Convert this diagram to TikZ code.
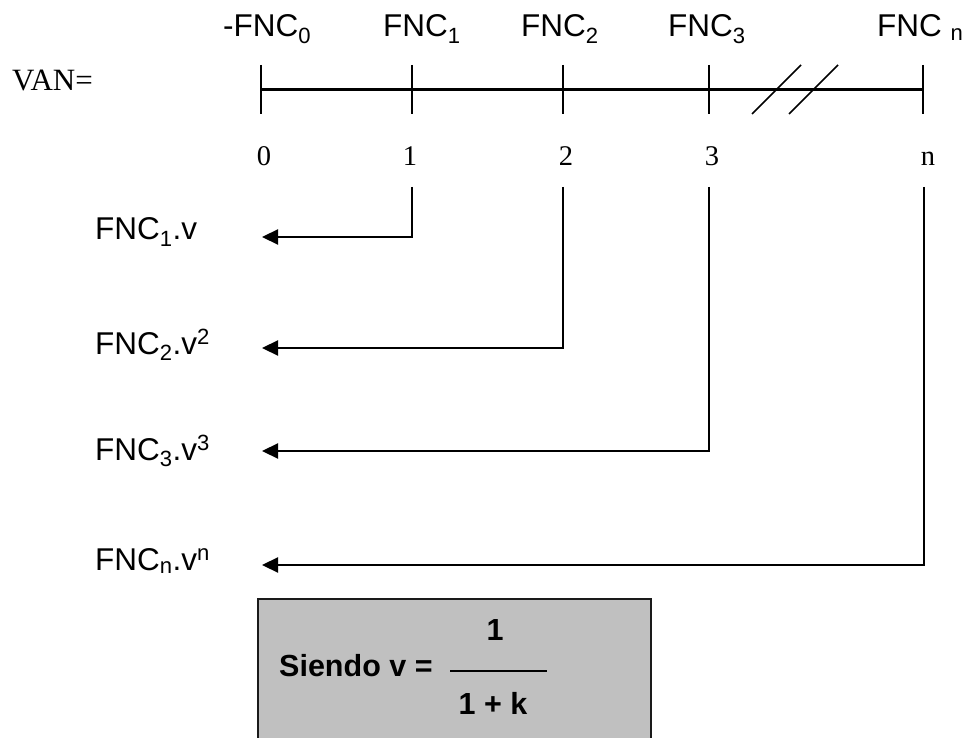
\documentclass[tikz,border=0pt]{standalone}
\usepackage{fontspec}
\setmainfont{Liberation Serif}
\setsansfont{Liberation Sans}
\usetikzlibrary{arrows.meta}
\definecolor{boxgray}{HTML}{C0C0C0}
\definecolor{boxedge}{HTML}{1A1A1A}
\begin{document}
\begin{tikzpicture}[x=1pt,y=-1pt,
  sanslbl/.style={font=\sffamily\fontsize{31.5}{36}\selectfont, inner sep=0pt, anchor=base west},
  numlbl/.style={font=\fontsize{28.5}{34}\selectfont, inner sep=0pt, anchor=base},
  boldlbl/.style={font=\sffamily\bfseries\fontsize{30.5}{34}\selectfont, inner sep=0pt},
  axis/.style={line width=2.2pt},
  tickmark/.style={line width=1.6pt},
  flow/.style={line width=2.2pt, -{Triangle[length=16pt,width=15pt]}},
]
\useasboundingbox (0,0) rectangle (964,738);

% time line with its ticks
\foreach \n/\x in {0/261,1/412,2/563,3/709,n/923}{
  \coordinate (t\n) at (\x,89.5);
  \draw[tickmark] (\x,65) -- (\x,114);
}
\draw[axis] (t0) -- (tn);

% break marks
\draw[tickmark] (752,114) -- (801,65);
\draw[tickmark] (789,114) -- (838,65);

% label of the sum
\node[font=\fontsize{31}{36}\selectfont, inner sep=0pt, anchor=base west] (van) at (12,91) {VAN=};

% cash flows above the ticks
\node[sanslbl] (f0) at (223,37) {-FNC\textsubscript{0}};
\node[sanslbl] (f1) at (383,37) {FNC\textsubscript{1}};
\node[sanslbl] (f2) at (521,37) {FNC\textsubscript{2}};
\node[sanslbl] (f3) at (668,37) {FNC\textsubscript{3}};
\node[sanslbl] (fn) at (877,37) {FNC \textsubscript{n}};

% periods below the ticks
\node[numlbl] (p0) at (264,166) {0};
\node[numlbl] (p1) at (410,166) {1};
\node[numlbl] (p2) at (566,166) {2};
\node[numlbl] (p3) at (712,166) {3};
\node[numlbl] (pn) at (928,166) {n};

% discounted values
\node[sanslbl] (d1) at (95,240) {FNC\textsubscript{1}.v};
\node[sanslbl] (d2) at (95,354) {FNC\textsubscript{2}.v\textsuperscript{2}};
\node[sanslbl] (d3) at (95,460) {FNC\textsubscript{3}.v\textsuperscript{3}};
\node[sanslbl] (dn) at (95,570) {FNC\textsubscript{n}.v\textsuperscript{n}};

% connectors from each period to its discounted value
\foreach \n/\x/\y in {1/412/237,2/563/348,3/709/451,n/924/565}{
  \coordinate (s\n) at (\x,187);
  \coordinate (e\n) at (262,\y);
  \draw[flow] (s\n) |- (e\n);
}

% definition of the discount factor
\fill[boxgray] (258,599) rectangle (651,745);
\draw[line width=2pt, boxedge] (258,745) -- (258,599) -- (651,599) -- (651,745);
\node[boldlbl, anchor=base west] (siendo) at (279,676) {Siendo v =};
\node[boldlbl, anchor=base] (num) at (495,640) {1};
\node[boldlbl, anchor=base] (den) at (493,714) {1 + k};
\draw[line width=1.8pt] (450,671) -- (547,671);
\end{tikzpicture}
\end{document}
